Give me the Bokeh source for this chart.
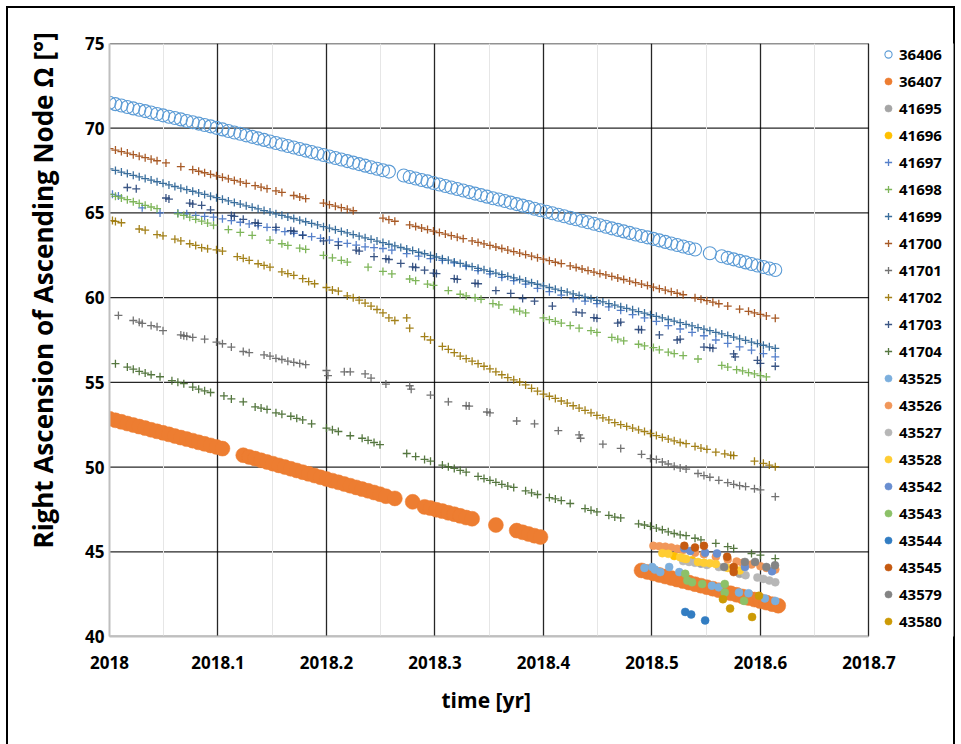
from bokeh.plotting import figure
from bokeh.models import Range1d, FixedTicker, Legend, LegendItem, Title
from bokeh.embed import file_html
from bokeh.resources import INLINE

# ---------------- data (day of 2018, value in degrees) ----------------
YEAR0 = 2018
DAYS_PER_YEAR = 365.0

X_TICKS = [2018.0, 2018.1, 2018.2, 2018.3, 2018.4, 2018.5, 2018.6, 2018.7]
X_TICK_LABELS = ["2018", "2018.1", "2018.2", "2018.3", "2018.4", "2018.5", "2018.6", "2018.7"]
X_MINOR = [2018.05, 2018.15, 2018.25, 2018.35, 2018.45, 2018.55, 2018.65]
Y_TICKS = [40, 45, 50, 55, 60, 65, 70, 75]
Y_TICK_LABELS = ["40", "45", "50", "55", "60", "65", "70", "75"]
X_TITLE = "time [yr]"
Y_TITLE = "Right Ascension of Ascending Node Ω [°]"

S_36406 = [(0,71.50),(2,71.42),(4,71.34),(6,71.25),(8,71.17),(10,71.09),(12,71.01),(14,70.93),(16,70.84),(18,70.76),
           (20,70.68),(22,70.60),(24,70.52),(26,70.43),(28,70.35),(30,70.27),(32,70.19),(34,70.11),(36,70.02),(38,69.93),
           (40,69.84),(42,69.75),(44,69.67),(46,69.58),(48,69.49),(50,69.40),(52,69.31),(54,69.22),(56,69.13),(58,69.04),
           (60,68.95),(62,68.86),(64,68.77),(66,68.68),(68,68.60),(70,68.51),(72,68.42),(74,68.33),(76,68.24),(78,68.15),
           (80,68.06),(82,67.97),(84,67.88),(86,67.79),(88,67.70),(90,67.61),(92,67.52),(94,67.44),
           (99,67.21),(101,67.12),(103,67.03),(105,66.94),(107,66.86),(109,66.77),(111,66.68),(113,66.59),(115,66.50),
           (117,66.41),(119,66.32),(121,66.23),(123,66.14),(125,66.05),(127,65.96),(129,65.87),(131,65.79),(133,65.70),
           (135,65.61),(137,65.52),(139,65.43),(141,65.34),(143,65.25),(145,65.16),(147,65.07),(149,64.98),(151,64.89),
           (153,64.80),(155,64.71),(157,64.63),(159,64.54),(161,64.45),(163,64.36),(165,64.27),(167,64.18),(169,64.09),
           (171,64.00),(173,63.91),(175,63.82),(177,63.73),(179,63.64),(181,63.56),(183,63.47),(185,63.38),(187,63.29),
           (189,63.20),(191,63.11),(193,63.02),(195,62.93),(197,62.84),(202,62.62),(206,62.44),(208,62.35),(210,62.26),
           (212,62.17),(214,62.08),(216,61.99),(218,61.90),(220,61.81),(222,61.72),(224,61.63)]

S_36407 = [(0,52.85),(2,52.76),(4,52.67),(6,52.57),(8,52.48),(10,52.39),(12,52.30),(14,52.20),(16,52.11),(18,52.02),
           (20,51.93),(22,51.83),(24,51.74),(26,51.65),(28,51.56),(30,51.46),(32,51.37),(34,51.28),(36,51.19),(38,51.09),
           (45,50.70),(47,50.60),(49,50.50),(51,50.40),(53,50.30),(55,50.20),(57,50.10),(59,50.00),(61,49.90),(63,49.80),
           (65,49.70),(67,49.60),(69,49.50),(71,49.40),(73,49.30),(75,49.20),(77,49.10),(79,49.00),(81,48.90),(83,48.80),
           (85,48.70),(87,48.60),(89,48.50),(91,48.40),(93,48.28),(96,48.15),(102,47.95),(106,47.65),(108,47.58),
           (110,47.48),(112,47.40),(114,47.30),(116,47.22),(118,47.12),(120,47.02),(122,46.95),(130,46.58),(137,46.25),
           (139,46.15),(141,46.05),(143,45.95),(145,45.87),
           (179,43.90),(181,43.81),(183,43.72),(185,43.63),(187,43.54),(189,43.45),(191,43.36),(193,43.27),(195,43.18),
           (197,43.09),(199,43.00),(201,42.91),(203,42.82),(205,42.73),(207,42.64),(209,42.55),(211,42.46),(213,42.36),
           (215,42.27),(217,42.18),(219,42.09),(221,42.00),(223,41.91),(225,41.82)]

S_41695 = [(199,44.30),(212,43.70)]
S_41696 = [(190,44.75),(196,44.50)]

S_41697 = [(1,66.10),(3,66.00),(11,65.30),(17,65.00),(23,65.00),(26,64.95),(29,64.85),(32,64.80),(35,64.75),(38,64.65),
           (41,64.55),(44,64.45),(47,64.35),(50,64.25),(53,64.15),(56,64.00),(59,63.90),(62,63.80),(65,63.70),(68,63.60),
           (71,63.50),(74,63.40),(77,63.30),(80,63.20),(83,63.10),(86,63.00),(89,62.95),(92,62.90),(95,62.80),(100,62.60),
           (104,62.45),(108,62.30),(112,62.20),(116,62.05),(120,61.85),(124,61.60),(128,61.40),(132,61.20),(136,61.00),
           (140,60.80),(144,60.55),(148,60.35),(152,60.15),(156,59.95),(160,59.80),(164,59.65),(168,59.45),(172,59.25),
           (176,59.00),(180,58.80),(184,58.60),(188,58.35),(192,58.15),(196,57.95),(200,57.75),(204,57.50),(208,57.30),
           (212,57.10),(216,56.90),(220,56.70),(224,56.50)]

S_41698 = [(0,66.10),(2,65.98),(4,65.88),(6,65.78),(8,65.66),(10,65.56),(12,65.45),(14,65.35),(16,65.25),(23,64.95),
           (25,64.85),(27,64.75),(29,64.62),(31,64.52),(33,64.40),(35,64.28),(40,64.02),(44,63.85),(48,63.68),(54,63.40),
           (58,63.18),(60,63.08),(64,62.92),(66,62.85),(72,62.50),(75,62.35),(78,62.20),(80,62.10),(87,61.80),(92,61.55),
           (95,61.40),(101,61.10),(103,61.00),(107,60.80),(109,60.72),(114,60.42),(118,60.20),(120,60.10),(123,60.00),
           (125,59.90),(129,59.65),(131,59.57),(136,59.30),(138,59.20),(140,59.10),(146,58.80),(148,58.70),(150,58.60),
           (152,58.50),(155,58.35),(158,58.20),(162,58.05),(164,57.95),(169,57.65),(171,57.55),(173,57.45),(178,57.25),
           (180,57.15),(183,57.05),(185,56.92),(188,56.78),(190,56.70),(193,56.58),(198,56.38),(206,56.00),(208,55.90),
           (211,55.75),(213,55.68),(215,55.58),(217,55.50),(219,55.40),(221,55.32)]

S_41699 = [(0,67.60),(2,67.51),(4,67.41),(6,67.32),(8,67.22),(10,67.13),(12,67.03),(14,66.94),(16,66.84),(18,66.75),
           (20,66.65),(22,66.56),(24,66.46),(26,66.37),(28,66.28),(30,66.18),(32,66.09),(34,65.99),(36,65.90),(38,65.80),
           (40,65.71),(42,65.61),(44,65.52),(46,65.42),(48,65.33),(50,65.24),(52,65.14),(54,65.05),(56,64.95),(58,64.86),
           (60,64.76),(62,64.67),(64,64.57),(66,64.48),(68,64.38),(70,64.29),(72,64.19),(74,64.10),(76,64.01),(78,63.91),
           (80,63.82),(82,63.72),(84,63.63),(86,63.53),(88,63.44),(90,63.34),(92,63.25),(94,63.15),(96,63.06),(98,62.96),
           (100,62.87),(102,62.78),(104,62.68),(106,62.59),(108,62.49),(110,62.40),(112,62.30),(114,62.21),(116,62.11),
           (118,62.02),(120,61.92),(122,61.83),(124,61.73),(126,61.64),(128,61.55),(130,61.45),(132,61.36),(134,61.26),
           (136,61.17),(138,61.07),(140,60.98),(142,60.88),(144,60.79),(146,60.69),(148,60.60),(150,60.50),(152,60.41),
           (154,60.32),(156,60.22),(158,60.13),(160,60.03),(162,59.94),(164,59.84),(166,59.75),(168,59.65),(170,59.56),
           (172,59.46),(174,59.37),(176,59.28),(178,59.18),(180,59.09),(182,58.99),(184,58.90),(186,58.80),(188,58.71),
           (190,58.61),(192,58.52),(194,58.42),(196,58.33),(198,58.23),(200,58.14),(202,58.05),(204,57.95),(206,57.86),
           (208,57.76),(210,57.67),(212,57.57),(214,57.48),(216,57.38),(218,57.29),(220,57.19),(222,57.10),(224,57.00)]

S_41700 = [(0,68.80),(2,68.71),(4,68.62),(6,68.53),(8,68.44),(10,68.35),(12,68.26),(14,68.17),(16,68.08),(19,67.95),
           (24,67.73),(28,67.55),(30,67.46),(32,67.37),(34,67.28),(36,67.19),(38,67.10),(40,67.01),(42,66.92),(44,66.83),
           (46,66.74),(49,66.61),(51,66.52),(53,66.43),(56,66.30),(58,66.21),(62,66.03),(64,65.94),(66,65.85),(72,65.58),
           (74,65.49),(76,65.40),(78,65.31),(80,65.22),(82,65.13),(92,64.69),(94,64.60),(96,64.51),(101,64.29),(103,64.20),
           (105,64.11),(107,64.02),(109,63.93),(111,63.84),(113,63.75),(115,63.66),(117,63.57),(119,63.48),(122,63.35),
           (124,63.26),(126,63.17),(128,63.08),(130,62.99),(132,62.90),(134,62.81),(136,62.72),(138,62.63),(140,62.54),
           (142,62.45),(144,62.36),(146,62.27),(148,62.18),(150,62.09),(152,62.01),(155,61.87),(157,61.78),(159,61.69),
           (161,61.60),(163,61.51),(165,61.42),(167,61.34),(169,61.25),(171,61.16),(173,61.07),(175,60.98),(177,60.89),
           (179,60.80),(181,60.71),(183,60.62),(185,60.53),(187,60.44),(189,60.35),(191,60.26),(193,60.17),(197,59.99),
           (199,59.90),(201,59.82),(203,59.73),(205,59.64),(208,59.50),(212,59.32),(215,59.19),(217,59.10),(219,59.01),
           (221,58.92),(224,58.79)]

S_41701 = [(3,58.95),(8,58.65),(10,58.55),(11,58.48),(14,58.35),(16,58.28),(18,58.05),(24,57.80),(25,57.75),(26,57.72),
           (28,57.65),(32,57.55),(36,57.38),(38,57.28),(41,57.08),(45,56.82),(47,56.75),(52,56.62),(54,56.55),(56,56.42),
           (58,56.35),(60,56.25),(62,56.18),(64,56.12),(66,56.05),(73,55.70),(73.5,55.40),(79,55.62),(81,55.62),(86,55.50),
           (88,55.25),(93,54.90),(101,54.80),(101.5,54.60),(108,54.25),(114,53.85),(120,53.62),(121,53.60),(127,53.25),
           (128,53.20),(137,52.72),(143,52.55),(151,52.15),(158,51.90),(158.5,51.70),(166,51.35),(172,51.10),(179,50.75),
           (182,50.50),(184,50.45),(186,50.30),(188,50.18),(190,50.05),(192,49.95),(194,49.88),(198,49.62),(200,49.50),
           (202,49.40),(205,49.22),(208,49.08),(210,48.98),(212,48.90),(214,48.85),(217,48.72),(219,48.65),(224,48.25)]

S_41702 = [(1,64.55),(2,64.50),(4,64.42),(10,64.05),(12,63.98),(16,63.72),(18,63.65),(22,63.45),(24,63.35),(27,63.18),
           (29,63.08),(31,62.95),(33,62.88),(36,62.82),(38,62.75),(43,62.42),(45,62.32),(47,62.20),(50,62.00),(52,61.90),
           (54,61.80),(58,61.52),(60,61.42),(62,61.32),(65,61.12),(67,60.95),(69,60.82),(73,60.60),(75,60.45),(77,60.38),
           (80,60.10),(82,60.00),(84,59.85),(86,59.68),(88,59.50),(90,59.30),(92,59.10),(94,58.80),(96,58.65),(100,58.80),
           (101,58.20),(106,57.70),(108,57.50),(112,57.12),(114,56.95),(116,56.75),(118,56.55),(120,56.40),(122,56.25),
           (124,56.10),(126,55.95),(128,55.80),(130,55.62),(132,55.45),(134,55.28),(136,55.15),(138,55.02),(140,54.85),
           (142,54.65),(144,54.48),(146,54.30),(148,54.18),(150,54.05),(152,53.90),(154,53.78),(156,53.62),(158,53.48),
           (160,53.35),(162,53.20),(164,53.05),(166,52.90),(168,52.78),(170,52.62),(172,52.50),(174,52.40),(176,52.30),
           (178,52.20),(180,52.10),(182,51.98),(184,51.86),(186,51.75),(188,51.65),(190,51.55),(192,51.45),(194,51.38),
           (197,51.22),(199,51.12),(201,51.05),(204,50.88),(207,50.78),(209,50.70),(210,50.68),(217,50.35),(220,50.22),
           (222,50.12),(224,50.02)]

S_41703 = [(6,66.50),(9,66.42),(19,65.88),(20,65.82),(27,65.58),(28,65.52),(31,65.45),(34,65.18),(41,64.85),(42,64.80),
           (45,64.62),(49,64.42),(50,64.38),(56,64.15),(61,63.95),(62,63.92),(65,63.68),(72,63.35),(77,63.08),(83,62.80),
           (84,62.75),(89,62.42),(93,62.30),(94,62.25),(98,62.02),(102,61.82),(103,61.78),(106,61.62),(109,61.45),
           (110,61.42),(116,61.12),(117,61.08),(123,60.85),(124,60.82),(130,60.42),(135,60.25),(139,59.95),(143,59.80),
           (149,59.50),(157,59.15),(159,59.10),(163,58.82),(164,58.78),(171,58.50),(172,58.55),(178,58.12),(179,58.10),
           (185,57.80),(191,57.50),(192,57.55),(200,57.08),(202,57.05),(203,57.02),(210,56.68),(210.5,56.50),(218,56.30),
           (219,56.12),(224,55.95)]

S_41704 = [(2,56.10),(6,55.90),(8,55.78),(10,55.65),(12,55.55),(14,55.45),(17,55.33),(21,55.10),(23,55.00),(25,54.92),
           (28,54.72),(30,54.60),(32,54.50),(34,54.40),(38.5,54.20),(41,54.02),(45,53.85),(49,53.55),(51,53.48),(53,53.40),
           (56,53.20),(58,53.12),(61,53.00),(63,52.88),(65,52.78),(68,52.55),(73,52.30),(75,52.20),(77,52.10),(81,51.85),
           (85,51.70),(87,51.58),(89,51.45),(91,51.32),(100,50.80),(103,50.62),(106,50.45),(108,50.35),(112,50.12),
           (114,50.02),(116,49.92),(118,49.80),(120,49.70),(124,49.45),(126,49.32),(128,49.22),(130,49.10),(132,48.98),
           (134,48.88),(136,48.80),(140,48.60),(142,48.48),(144,48.38),(148,48.20),(150,48.12),(152,48.02),(155,47.85),
           (160,47.55),(162,47.45),(164,47.35),(168,47.15),(170,47.05),(172,47.00),(178,46.65),(180,46.58),(182,46.50),
           (184,46.40),(186,46.30),(188,46.18),(190,46.08),(192,46.00),(194,45.95),(197,45.80),(199,45.70),(204,45.50),
           (208,45.30),(210,45.20),(216,44.90),(219,44.80),(224,44.60)]

S_43525 = [(180,44.05),(182.6,44.10),(183.5,43.95),(185.3,43.80),(188.3,44.10),(191.7,43.80),(202.7,43.00),(205,42.90),
           (211.8,42.60),(215,42.55),(220.5,42.25),(224,42.10)]
S_43526 = [(183,45.35),(185,45.32),(187,45.30),(189,45.25),(191,45.18),(193,45.10),(197,44.95),(200,44.85),(204,44.70),
           (208,44.55),(211,44.42),(213,44.35),(216,44.25),(219,44.15),(221,44.05),(224,43.95)]
S_43527 = [(193,44.45),(195,44.40),(197,44.35),(201,44.22),(205,44.10),(210,43.92),(214,43.62),(218,43.48),(220,43.40),
           (222,43.30),(224,43.20)]
S_43528 = [(186,44.92),(188,44.88),(192,44.68),(193,44.62),(194,44.58),(198,44.40),(200,44.35),(202,44.32),(204,44.28),
           (208,44.05),(210,43.98),(212,43.90)]
S_43542 = [(193.4,45.20),(195.4,45.05),(200.4,44.95),(204.4,44.90),(213.8,44.10),(222.9,43.85)]
S_43543 = [(193.7,43.70),(194.4,43.30),(196,43.20),(199.4,43.10),(207,43.10),(207,42.60),(213.5,42.10)]
S_43544 = [(193.7,41.45),(195.7,41.30),(200.4,40.95)]
S_43545 = [(193.4,45.35),(197,45.25),(200,45.35),(207.8,44.70),(210,44.10),(210,43.80)]
S_43579 = [(206.8,44.10),(213.8,44.40),(217.2,44.40),(221,44.10),(223.9,44.20)]
S_43580 = [(206.4,42.20),(208.8,41.65),(218.5,42.40),(216.2,41.15)]

SERIES = [("36406", S_36406), ("36407", S_36407), ("41695", S_41695), ("41696", S_41696),
          ("41697", S_41697), ("41698", S_41698), ("41699", S_41699), ("41700", S_41700),
          ("41701", S_41701), ("41702", S_41702), ("41703", S_41703), ("41704", S_41704),
          ("43525", S_43525), ("43526", S_43526), ("43527", S_43527), ("43528", S_43528),
          ("43542", S_43542), ("43543", S_43543), ("43544", S_43544), ("43545", S_43545),
          ("43579", S_43579), ("43580", S_43580)]

# ---------------- styles ----------------
STYLE = {
    "36406": ("open", "#5B9BD5", 13), "36407": ("dot", "#ED7D31", 15),
    "41695": ("dot", "#A5A5A5", 8), "41696": ("dot", "#FFC000", 8),
    "41697": ("cross", "#4472C4", 8), "41698": ("cross", "#70AD47", 8),
    "41699": ("cross", "#255E91", 8), "41700": ("cross", "#9E480E", 8),
    "41701": ("cross", "#636363", 8), "41702": ("cross", "#997300", 8),
    "41703": ("cross", "#264478", 8), "41704": ("cross", "#43682B", 8),
    "43525": ("dot", "#7CAFDD", 8), "43526": ("dot", "#F1975A", 8),
    "43527": ("dot", "#B7B7B7", 8), "43528": ("dot", "#FFCD33", 8),
    "43542": ("dot", "#698ED0", 8), "43543": ("dot", "#8CC168", 8),
    "43544": ("dot", "#327DC2", 8), "43545": ("dot", "#C55A11", 8),
    "43579": ("dot", "#848484", 8), "43580": ("dot", "#CC9A06", 8),
}

FONT = "Open Sans"
W, H = 956, 744
FRAME_L, FRAME_T, FRAME_B = 105, 43, 636
BORDER_R = 3                       # frame extends under the legend column
X_START, X_END = X_TICKS[0], X_TICKS[-1]
PX_PER_YEAR = 1090.0               # 0.1 yr = 109 px
X_VIEW_END = X_START + (W - BORDER_R - FRAME_L) / PX_PER_YEAR

p = figure(width=W, height=H, x_range=Range1d(X_START, X_VIEW_END), y_range=Range1d(Y_TICKS[0], Y_TICKS[-1]),
           output_backend="svg", toolbar_location=None,
           min_border_left=FRAME_L, min_border_right=BORDER_R,
           min_border_top=FRAME_T, min_border_bottom=H - FRAME_B)
# outer chart-area border (top, left, right) drawn as host background lines
p.styles = {"background": ("linear-gradient(#000,#000) 6px 6px / 2px 740px no-repeat, "
                           "linear-gradient(#000,#000) 6px 6px / 949px 2px no-repeat, "
                           "linear-gradient(#000,#000) 953px 6px / 2px 740px no-repeat, #ffffff")}
p.border_fill_alpha = 0
p.outline_line_color = None
p.background_fill_color = "white"

xt = FixedTicker(ticks=X_TICKS, minor_ticks=X_MINOR)
yt = FixedTicker(ticks=Y_TICKS, minor_ticks=[])
p.xaxis.ticker = xt
p.yaxis.ticker = yt
p.xgrid.ticker = xt
p.xaxis.bounds = (X_START, X_END)
p.xaxis.major_label_overrides = dict(zip(X_TICKS, X_TICK_LABELS))
p.yaxis.major_label_overrides = dict(zip(Y_TICKS, Y_TICK_LABELS))

for ax in (p.xaxis, p.yaxis):
    ax.major_tick_line_color = None
    ax.minor_tick_line_color = None
    ax.major_tick_out = 0
    ax.minor_tick_out = 0
    ax.major_tick_in = 0
    ax.minor_tick_in = 0
    ax.axis_line_color = "#BFBFBF"
    ax.axis_line_width = 2
    ax.major_label_text_font = FONT
    ax.major_label_text_font_style = "bold"
    ax.major_label_text_font_size = "17px"
    ax.major_label_text_color = "#000000"
p.yaxis.major_label_standoff = 5
p.xaxis.major_label_standoff = 19

p.xgrid.grid_line_color = "#000000"
p.xgrid.grid_line_width = 1.3
p.xgrid.grid_line_alpha = 0.85
p.xgrid.minor_grid_line_color = "#E6E6E6"
p.xgrid.minor_grid_line_width = 1
p.ygrid.grid_line_color = None
# horizontal grid lines only across the data span (2018 .. 2018.7)
p.segment(x0=[X_START] * len(Y_TICKS), x1=[X_END] * len(Y_TICKS), y0=Y_TICKS, y1=Y_TICKS,
          line_color="#000000", line_width=1.3, line_alpha=0.85, level="underlay")

ytitle = Title(text=Y_TITLE, align="left", offset=88,
               text_font=FONT, text_font_style="bold", text_font_size="26px",
               text_color="#000000", standoff=44)
p.add_layout(ytitle, "left")

xtitle = Title(text=X_TITLE, align="left", offset=332,
               text_font=FONT, text_font_style="bold", text_font_size="21px",
               text_color="#000000", standoff=24)
p.add_layout(xtitle, "below")

items = []
for name, pts in SERIES:
    xs = [YEAR0 + d / DAYS_PER_YEAR for d, _ in pts]
    ys = [v for _, v in pts]
    kind, color, size = STYLE[name]
    if kind == "open":
        r = p.scatter(xs, ys, marker="circle", size=size, fill_color=None,
                      line_color=color, line_width=1.1)
    elif kind == "dot":
        r = p.scatter(xs, ys, marker="circle", size=size, fill_color=color,
                      line_color=color, line_width=0.5)
    else:
        r = p.scatter(xs, ys, marker="cross", size=size, line_color=color,
                      line_width=1.3, line_alpha=0.9)
    items.append(LegendItem(label=name, renderers=[r]))

legend = Legend(items=items, location=(770, 4), orientation="vertical",
                glyph_width=18, glyph_height=22, label_height=22, spacing=5,
                padding=0, margin=0, label_standoff=2,
                label_text_font=FONT, label_text_font_style="bold",
                label_text_font_size="15px", label_text_color="#000000",
                border_line_color=None, background_fill_alpha=0)
p.add_layout(legend, "center")

open("out.html", "w").write(file_html(p, INLINE))
